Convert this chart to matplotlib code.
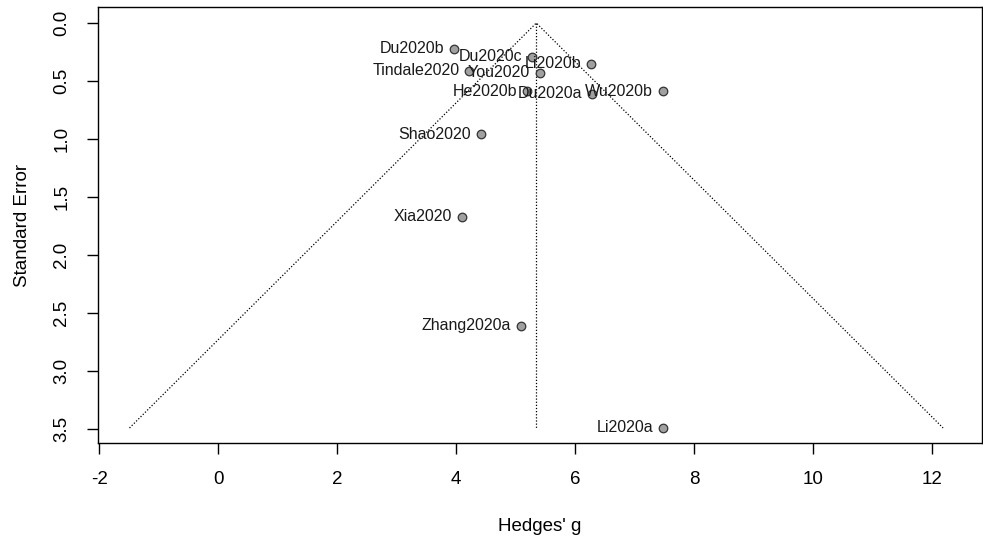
import numpy as np
import matplotlib
matplotlib.use('Agg')
import matplotlib.pyplot as plt

plt.rcParams['font.family'] = ['Liberation Sans', 'DejaVu Sans']

# Study data
studies = ['Du2020b', 'Du2020c', 'Li2020b', 'Tindale2020', 'You2020', 'He2020b',
           'Du2020a', 'Wu2020b', 'Shao2020', 'Xia2020', 'Zhang2020a', 'Li2020a']
hedges_g = [3.97, 5.28, 6.27, 4.22, 5.41, 5.19, 6.29, 7.48, 4.42, 4.10, 5.09, 7.48]
std_err = [0.22, 0.29, 0.35, 0.41, 0.43, 0.59, 0.61, 0.59, 0.96, 1.67, 2.61, 3.49]
pooled_g = 5.35

xticks = [-2, 0, 2, 4, 6, 8, 10, 12]
yticks = [0.0, 0.5, 1.0, 1.5, 2.0, 2.5, 3.0, 3.5]

FONTSIZE = 13.5
LABELSIZE = 11.5

fig = plt.figure(figsize=(9.83, 5.39), dpi=100)
ax = fig.add_axes([0.0997, 0.178, 0.899, 0.809])

# funnel (pseudo 95% CI) and pooled estimate line
se_max = max(std_err)
ax.plot([pooled_g - 1.96 * se_max, pooled_g, pooled_g + 1.96 * se_max],
        [se_max, 0, se_max], color='black', linestyle=(0, (1, 1.5)), linewidth=0.9)
ax.plot([pooled_g, pooled_g], [0, se_max], color='black',
        linestyle=(0, (1, 1.5)), linewidth=0.9)

ax.scatter(hedges_g, std_err, s=38, facecolor='#a0a0a0', edgecolor='#333333',
           linewidth=0.9, zorder=3)
for name, g, se in zip(studies, hedges_g, std_err):
    ax.annotate(name, (g, se), xytext=(-7, 0), textcoords='offset points',
                ha='right', va='center', fontsize=LABELSIZE, color='#1a1a1a', zorder=4)

ax.set_xlim(-2.02, 12.84)
ax.set_ylim(3.62, -0.138)
ax.set_xticks(xticks)
ax.set_xticklabels([str(t) for t in xticks])
ax.set_yticks(yticks)
ax.set_yticklabels(['%.1f' % t for t in yticks], rotation=90, va='center')
ax.tick_params(axis='both', direction='out', length=8, width=1, labelsize=FONTSIZE,
               pad=12)
for sp in ax.spines.values():
    sp.set_linewidth(1)

ax.set_xlabel("Hedges' g", fontsize=FONTSIZE, labelpad=22)
ax.set_ylabel('Standard Error', fontsize=FONTSIZE, labelpad=16)

fig.savefig('out.png', dpi=100)
